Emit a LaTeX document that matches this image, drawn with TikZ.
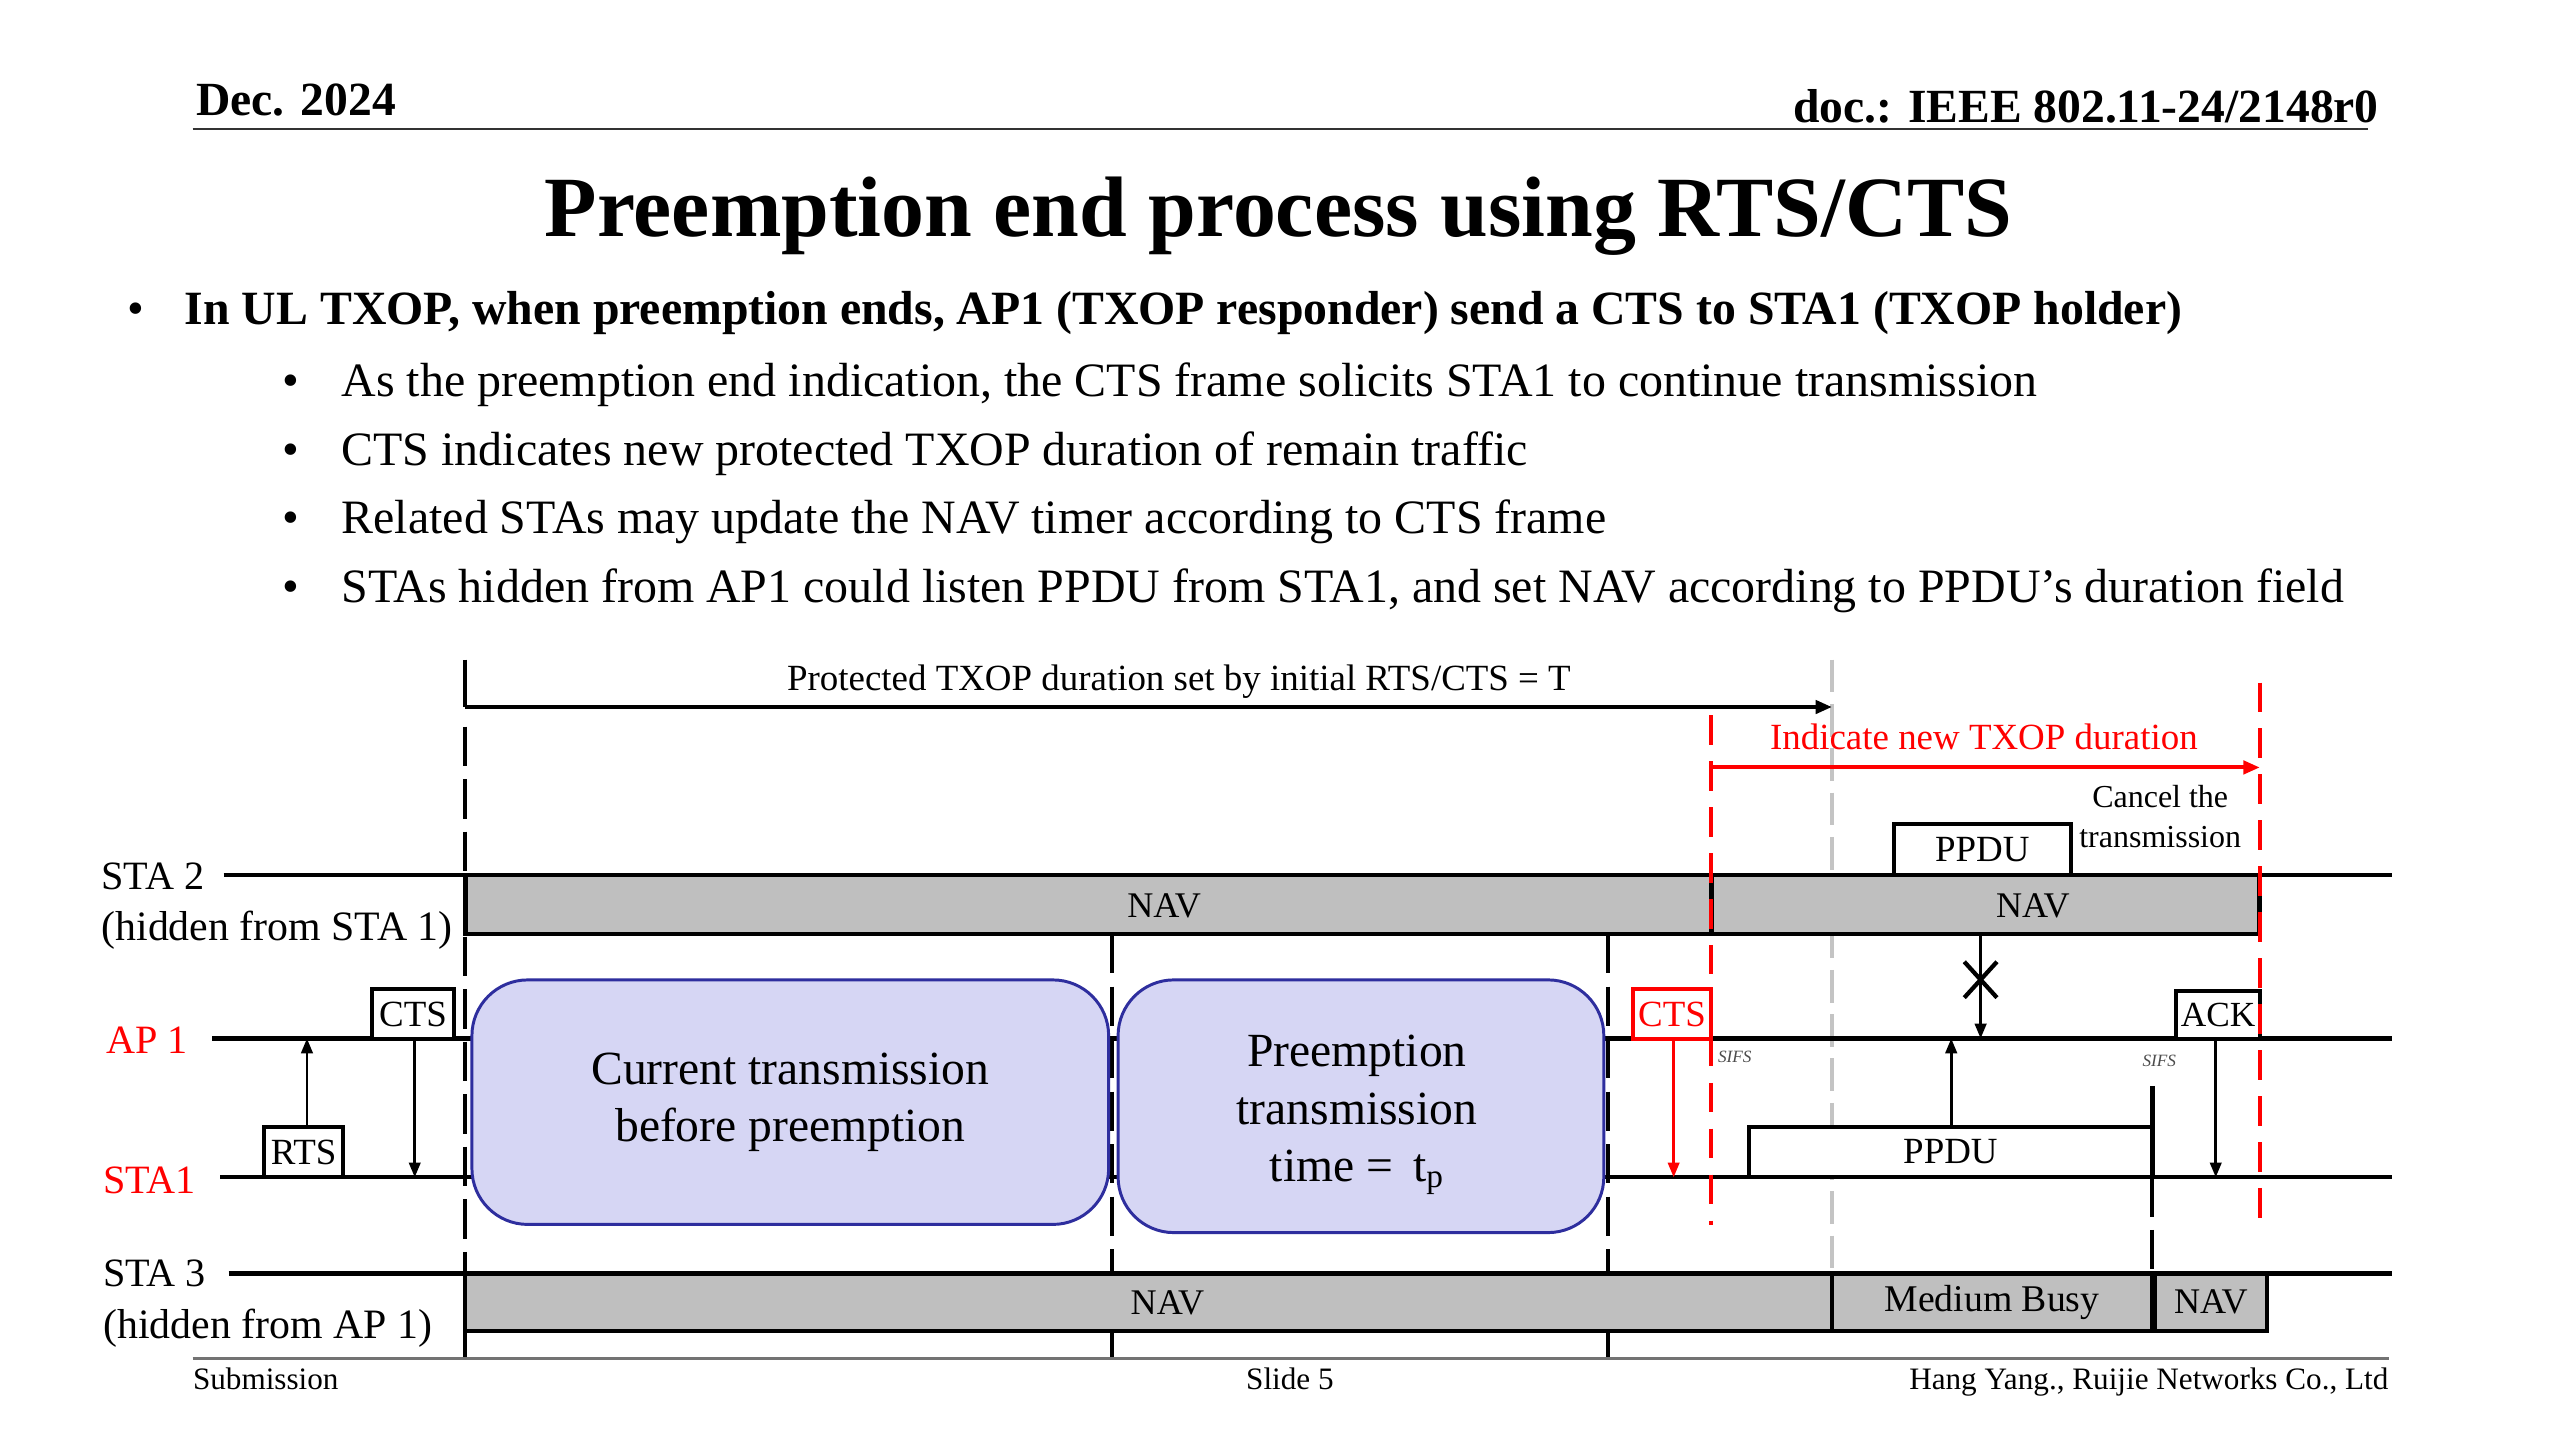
\documentclass[tikz,border=0pt]{standalone}
\usepackage{fontspec}
\setmainfont{Liberation Serif}
\usetikzlibrary{arrows.meta}
\definecolor{navgray}{HTML}{BFBFBF}
\definecolor{boxfill}{HTML}{D6D6F4}
\definecolor{boxline}{HTML}{2E2E9E}
\definecolor{redc}{HTML}{FF0000}
\definecolor{lgray}{HTML}{C4C4C4}
\newcommand\fz[2]{\fontsize{#1pt}{#2pt}\selectfont}
\begin{document}
\begin{tikzpicture}[x=0.995pt,y=-0.995pt,
  tl/.style={line width=2.6pt},
  lab/.style={inner sep=0pt, font=\fz{24.5}{29}},
  frm/.style={draw, line width=2.4pt, fill=white, inner sep=0pt, font=\fz{22.5}{27}},
  navbox/.style={draw, line width=2.6pt, fill=navgray, inner sep=0pt},
  navtxt/.style={inner sep=0pt, font=\fz{22}{26}},
  bluebox/.style={draw=boxline, fill=boxfill, line width=1.8pt, rounded corners=34pt, inner sep=0pt, align=center, font=\fz{29}{35}},
  bluetxt/.style={inner sep=0pt, align=center, font=\fz{29}{35}},
  arr/.style={line width=1.6pt, -{Triangle[length=9pt,width=7pt]}},
  dsh/.style={line width=2.6pt, dash pattern=on 24pt off 8pt},
  rdsh/.style={line width=2.4pt, redc, dash pattern=on 18pt off 10pt},
  gdsh/.style={line width=2.4pt, lgray, dash pattern=on 20pt off 7pt},
  sifs/.style={inner sep=0pt, font=\fz{10.5}{12}\itshape, text=black!70},
  body/.style={anchor=base west, inner sep=0pt, font=\fz{29.2}{34}},
]
\fill[white] (0,0) rectangle (1567.84,882);
\useasboundingbox (0,0) rectangle (1567.84,882);

% header
\node[anchor=base west, inner sep=0pt, font=\fz{29}{34}\bfseries] (date) at (120,71) {Dec. 2024};
\node[anchor=base east, inner sep=0pt, font=\fz{29}{34}\bfseries] (doc) at (1457,75) {doc.: IEEE 802.11-24/2148r0};
\coordinate (hl1) at (118,79); \coordinate (hl2) at (1450,79);
\draw[line width=1.8pt, black!80] (hl1) -- (hl2);

% title
\node[anchor=base, inner sep=0pt, font=\fz{52.3}{60}\bfseries] (title) at (783,145) {Preemption end process using RTS/CTS};

% bullets
\node[body] (b0) at (78,199) {•};
\node[body, font=\fz{29.1}{34}\bfseries] (t0) at (113,199) {In UL TXOP, when preemption ends, AP1 (TXOP responder) send a CTS to STA1 (TXOP holder)};
\node[body] (b1) at (173,243) {•};
\node[body] (t1) at (209,243) {As the preemption end indication, the CTS frame solicits STA1 to continue transmission};
\node[body] (b2) at (173,285) {•};
\node[body] (t2) at (209,285) {CTS indicates new protected TXOP duration of remain traffic};
\node[body] (b3) at (173,327) {•};
\node[body] (t3) at (209,327) {Related STAs may update the NAV timer according to CTS frame};
\node[body] (b4) at (173,369) {•};
\node[body] (t4) at (209,369) {STAs hidden from AP1 could listen PPDU from STA1, and set NAV according to PPDU’s duration field};

% coordinates
\coordinate (p0top) at (285,404); \coordinate (p0a) at (285,433); \coordinate (p0b) at (1122,433);
\coordinate (gtop) at (1122,404); \coordinate (gbot) at (1122,780);
\coordinate (d0a) at (285,445); \coordinate (d0b) at (285,832);
\coordinate (d1a) at (681,572); \coordinate (d1b) at (681,832);
\coordinate (d2a) at (985,572); \coordinate (d2b) at (985,832);
\coordinate (r1a) at (1048,438); \coordinate (r1b) at (1048,750);
\coordinate (r2a) at (1384,418); \coordinate (r2b) at (1384,750);
\coordinate (ra) at (1048,470); \coordinate (rb) at (1384,470);

% labels on the left
\node[lab, anchor=base west] (sta2) at (62,545) {STA 2};
\node[lab, anchor=base west, font=\fz{25.5}{30}] (sta2h) at (62,576) {(hidden from STA 1)};
\node[lab, anchor=base west, text=redc] (ap1) at (65,645) {AP 1};
\node[lab, anchor=base west, text=redc] (sta1) at (63,731) {STA1};
\node[lab, anchor=base west] (sta3) at (63,788) {STA 3};
\node[lab, anchor=base west, font=\fz{25.5}{30}] (sta3h) at (63,820) {(hidden from AP 1)};

% dashed verticals (behind the boxes)
\draw[gdsh] (gtop) -- (gbot);
\draw[dsh] (d0a) -- (d0b);
\draw[dsh] (d1a) -- (d1b);
\draw[dsh] (d2a) -- (d2b);

% timeline lines
\coordinate (s2a) at (137,536); \coordinate (s2b) at (1465,536);
\coordinate (apa) at (130,636); \coordinate (apb) at (1465,636);
\coordinate (s1a) at (135,721); \coordinate (s1b) at (1465,721);
\coordinate (s3a) at (140,780); \coordinate (s3b) at (1465,780);
\draw[tl] (s2a) -- (s2b);
\draw[tl] (apa) -- (apb);
\draw[tl] (s1a) -- (s1b);
\draw[tl] (s3a) -- (s3b);

% top protected duration
\draw[line width=2.4pt] (p0top) -- (p0a);
\draw[line width=2.4pt, -{Triangle[length=10pt,width=8pt]}] (p0a) -- (p0b);
\node[inner sep=0pt, anchor=base, font=\fz{22.5}{27}] (ptxt) at (722,423) {Protected TXOP duration set by initial RTS/CTS = T};

% NAV boxes
\node[navbox, minimum width=759pt, minimum height=36pt] (nav1) at (666.5,554) {};
\node[navbox, minimum width=334pt, minimum height=36pt] (nav2) at (1216,554) {};
\node[navtxt] (nav1t) at (713,555) {NAV};
\node[navtxt] (nav2t) at (1245,555) {NAV};
\node[navbox, minimum width=833pt, minimum height=35pt] (nav3) at (703.5,797.5) {};
\node[navtxt] (nav3t) at (715,798) {NAV};
\node[navbox, minimum width=195pt, minimum height=35pt, font=\fz{23}{27}] (mb) at (1220,797.5) {Medium Busy};
\node[navbox, minimum width=68pt, minimum height=35pt, font=\fz{22}{26}] (nav4) at (1354,797.5) {NAV};
\draw[dsh] (nav3.south -| d0a) -- (d0b);
\draw[dsh] (nav3.south -| d1a) -- (d1b);
\draw[dsh] (nav3.south -| d2a) -- (d2b);

% blue boxes
\node[bluebox, minimum width=388pt, minimum height=149pt] (cur) at (484,675) {Current transmission\\before preemption};
\node[bluebox, minimum width=296pt, minimum height=154pt] (pre) at (833.5,677.5) {};
\node[bluetxt] (pretxt) at (831,683) {Preemption\\transmission\\time = \,t\textsubscript{p}};

% RTS / CTS exchange
\node[frm, minimum width=48pt, minimum height=31pt] (rts) at (186,705.5) {RTS};
\node[frm, minimum width=50pt, minimum height=30pt] (cts) at (253,621) {CTS};
\coordinate (rtsup) at (188,636);
\coordinate (ctsdn) at (254,721);
\draw[arr] (rts.north -| rtsup) -- (rtsup);
\draw[arr] (cts.south -| ctsdn) -- (ctsdn);

% red CTS
\node[frm, draw=redc, text=redc, minimum width=48pt, minimum height=30pt] (rcts) at (1024,621) {CTS};
\coordinate (rctsdn) at (1025,721);
\draw[arr, redc] (rcts.south -| rctsdn) -- (rctsdn);
\node[sifs, anchor=west] (sifs1) at (1052,647) {SIFS};

% STA1 PPDU
\node[frm, minimum width=246pt, minimum height=31pt] (pp1) at (1194.5,705.5) {PPDU};
\coordinate (pp1up) at (1195,636);
\draw[arr] (pp1.north -| pp1up) -- (pp1up);
\coordinate (e1a) at (1318,665); \coordinate (e1b) at (1318,721); \coordinate (e1c) at (1318,780);
\draw[line width=3pt] (e1a) -- (e1b);
\draw[dsh] (e1b) -- (e1c);
\node[sifs, anchor=west] (sifs2) at (1312,650) {SIFS};

% STA2 PPDU and blocked arrow
\node[frm, minimum width=108pt, minimum height=31pt] (pp2) at (1214,520.5) {PPDU};
\coordinate (xa) at (1213,636);
\draw[arr] (nav2.south -| xa) -- (xa);
\coordinate (xc) at (1213,600);
\draw[line width=2.6pt] ([shift={(-10,-11)}]xc) -- ([shift={(10,11)}]xc);
\draw[line width=2.6pt] ([shift={(-10,11)}]xc) -- ([shift={(10,-11)}]xc);
\node[inner sep=0pt, align=center, font=\fz{19.5}{24}] (cancel) at (1323,500) {Cancel the\\transmission};

% ACK
\node[frm, minimum width=51pt, minimum height=29pt, font=\fz{21.5}{26}] (ack) at (1358.5,621.5) {ACK};
\coordinate (ackdn) at (1357,721);
\draw[arr] (ack.south -| ackdn) -- (ackdn);

% red new TXOP duration
\draw[rdsh] (r1a) -- (r1b);
\draw[rdsh] (r2a) -- (r2b);
\draw[line width=2.4pt, redc, -{Triangle[length=10pt,width=8pt]}] (ra) -- (rb);
\node[inner sep=0pt, anchor=base, text=redc, font=\fz{22.5}{27}] (newtx) at (1215,459) {Indicate new TXOP duration};

% footer
\coordinate (f1) at (118,832); \coordinate (f2) at (1463,832);
\draw[line width=1.5pt, black!55] (f1) -- (f2);
\node[anchor=base west, inner sep=0pt, font=\fz{19}{23}] (sub) at (118,851) {Submission};
\node[anchor=base, inner sep=0pt, font=\fz{19}{23}] (slide) at (790,851) {Slide 5};
\node[anchor=base east, inner sep=0pt, font=\fz{19}{23}] (auth) at (1463,851) {Hang Yang., Ruijie Networks Co., Ltd};
\end{tikzpicture}
\end{document}
